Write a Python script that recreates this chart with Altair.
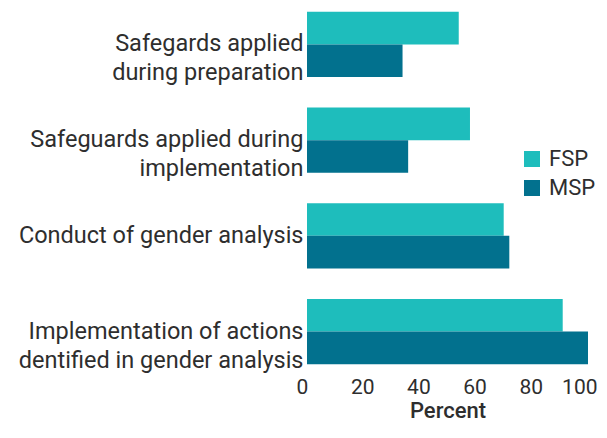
import altair as alt
import pandas as pd

categories = [
    "Safegards applied|during preparation",
    "Safeguards applied during|implementation",
    "Conduct of gender analysis",
    "Implementation of actions|dentified in gender analysis",
]
series = ["FSP", "MSP"]
fsp = [54, 58, 70, 91]
msp = [34, 36, 72, 100]
ticks = [0, 20, 40, 60, 80, 100]
colors = ["#1ebdbc", "#02718e"]

rows = []
for c, f, m in zip(categories, fsp, msp):
    rows.append({"cat": c, "series": "FSP", "value": f})
    rows.append({"cat": c, "series": "MSP", "value": m})
df = pd.DataFrame(rows)

FONT = "Roboto"
TXT = "#2e2e2e"

chart = alt.Chart(df).mark_bar().encode(
    y=alt.Y("cat:N", sort=categories, title=None,
            scale=alt.Scale(paddingInner=0.32, paddingOuter=0.04),
            axis=alt.Axis(labelExpr="split(datum.label, '|')", ticks=False, domain=False,
                          labelPadding=4, labelFontSize=23.5, labelFont=FONT, labelColor=TXT,
                          labelLineHeight=29, labelLimit=400, labelBaseline="middle")),
    yOffset=alt.YOffset("series:N", sort=series,
                        scale=alt.Scale(paddingInner=0, paddingOuter=0)),
    x=alt.X("value:Q", title="Percent", scale=alt.Scale(domain=[0, 100]),
            axis=alt.Axis(values=ticks, ticks=False, domain=False, grid=False,
                          labelFlush=True, labelFlushOffset=10, labelOffset=-1,
                          labelFontSize=21, labelFont=FONT, labelColor=TXT, labelPadding=8,
                          titleFontSize=22, titleFont=FONT, titleColor=TXT, titleFontWeight=500,
                          titlePadding=3)),
    color=alt.Color("series:N", sort=series, scale=alt.Scale(domain=series, range=colors),
                    legend=alt.Legend(title=None, orient="none", legendX=214, legendY=140,
                                      symbolType="square", symbolSize=256, symbolStrokeWidth=0,
                                      labelFontSize=22, labelFont=FONT, labelColor=TXT,
                                      rowPadding=7, padding=0, labelOffset=6)),
).properties(
    width=281, height=360,
    autosize=alt.AutoSizeParams(type="none"),
    padding={"left": 299, "top": 0, "right": 11, "bottom": 62},
).configure_view(stroke=None)

chart.save("out.html", embed_options={"renderer": "svg", "actions": False})
